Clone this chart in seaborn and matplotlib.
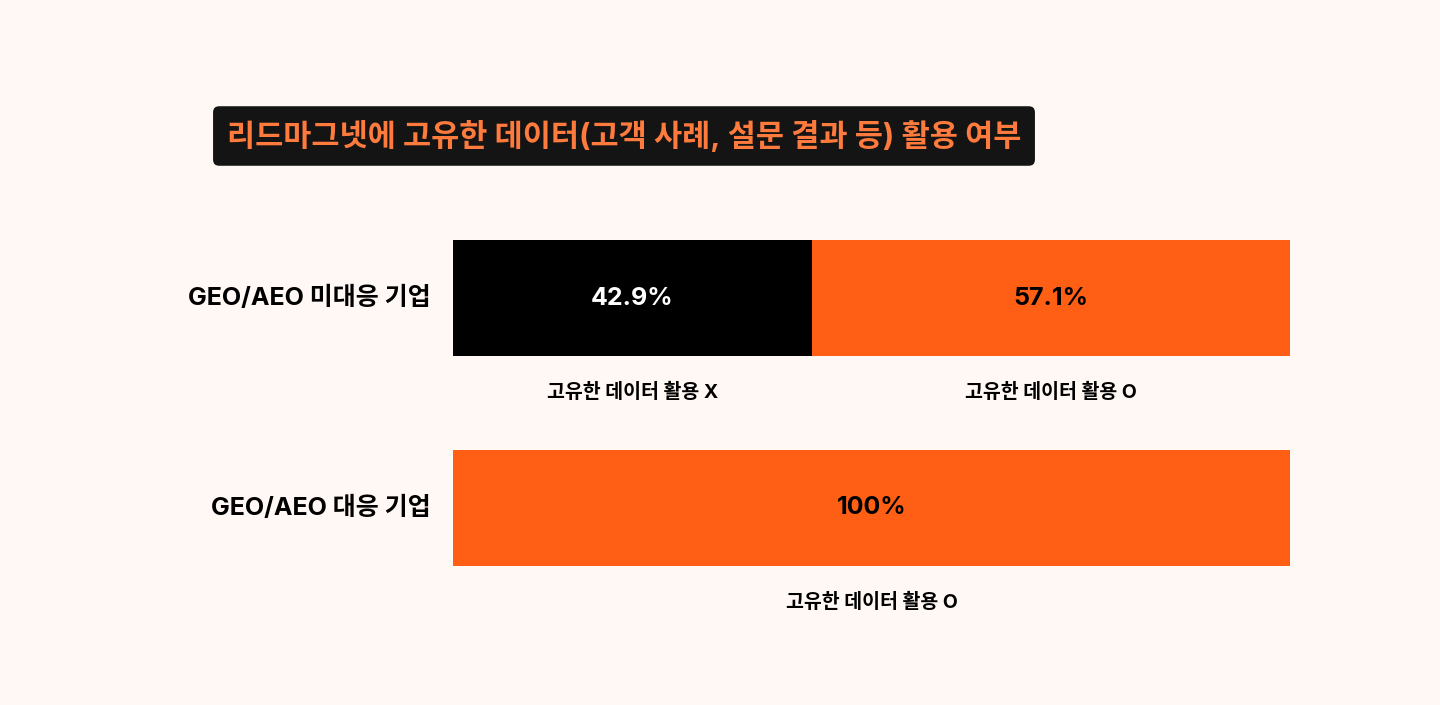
import matplotlib
matplotlib.use("Agg")
import matplotlib.pyplot as plt
import seaborn as sns
import pandas as pd

groups = ["GEO/AEO 미대응 기업", "GEO/AEO 대응 기업"]
not_used = [42.9, 0.0]
used = [57.1, 100.0]
title = "리드마그넷에 고유한 데이터(고객 사례, 설문 결과 등) 활용 여부"
label_x = "고유한 데이터 활용 X"
label_o = "고유한 데이터 활용 O"

bg = "#FFF8F4"
orange = "#FF5F14"

sns.set_theme(style="white")
plt.rcParams['font.family'] = ['Inter', 'Noto Sans CJK KR', 'DejaVu Sans']

fig = plt.figure(figsize=(14.4, 7.05), dpi=100, facecolor=bg)
ax = fig.add_axes([453 / 1440, 92 / 705, 837 / 1440, 420 / 705])
ax.set_facecolor(bg)

df = pd.DataFrame({"group": groups, "total": [a + b for a, b in zip(not_used, used)], "x": not_used})
sns.barplot(data=df, y="group", x="total", color=orange, width=0.552, ax=ax,
            saturation=1, linewidth=0)
sns.barplot(data=df, y="group", x="x", color="black", width=0.552, ax=ax,
            saturation=1, linewidth=0)

ax.set_xlim(0, 100)
ax.set_ylim(1.5, -0.5)
ax.axis("off")

for i, (g, a, b) in enumerate(zip(groups, not_used, used)):
    ax.text(-2.7, i, g, ha="right", va="center", fontsize=18, fontweight="bold", color="black")
    if a > 0:
        ax.text(a / 2, i, f"{a:.1f}%", ha="center", va="center", fontsize=18,
                fontweight="bold", color="white")
        ax.text(a / 2, i + 0.45, label_x, ha="center", va="center", fontsize=14,
                fontweight="bold", color="black")
    txt = f"{b:.1f}%" if b < 100 else f"{b:.0f}%"
    ax.text(a + b / 2, i, txt, ha="center", va="center", fontsize=18,
            fontweight="bold", color="black")
    ax.text(a + b / 2, i + 0.45, label_o, ha="center", va="center", fontsize=14,
            fontweight="bold", color="black")

fig.text(624 / 1440, 1 - 136 / 705, title, ha="center", va="center", fontsize=22,
         fontweight="bold", color="#FF7A3D",
         bbox=dict(boxstyle="round,pad=0.45,rounding_size=0.2", fc="#141414", ec="none"))

fig.savefig("out.png", dpi=100, facecolor=bg)
